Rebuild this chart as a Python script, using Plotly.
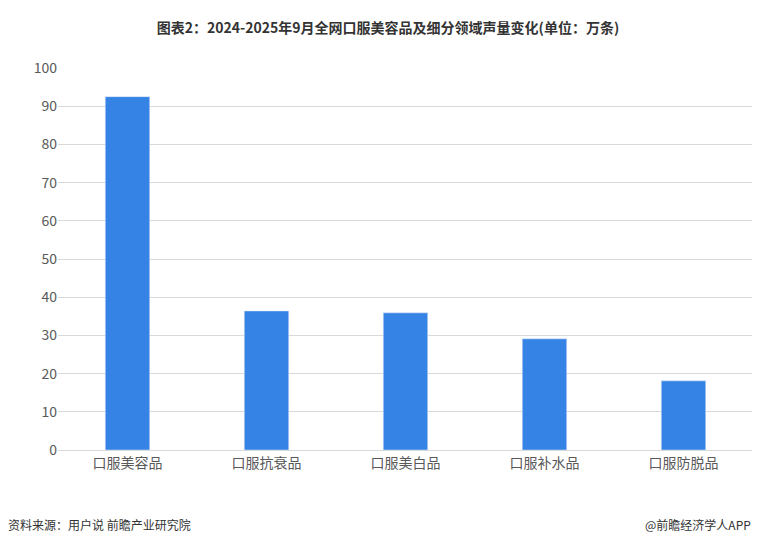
import plotly.graph_objects as go

categories = ["口服美容品", "口服抗衰品", "口服美白品", "口服补水品", "口服防脱品"]
values = [92.5, 36.4, 35.9, 29.1, 18.1]
yticks = list(range(0, 101, 10))

fig = go.Figure(go.Bar(x=categories, y=values, marker_color="#3583e5", width=0.32))
fig.update_layout(
    width=760, height=537, paper_bgcolor="white", plot_bgcolor="white",
    margin=dict(l=50, r=15, t=60, b=95),
    font=dict(family="Noto Sans CJK SC", size=14, color="#595959"),
    title=dict(text="<b>图表2：2024-2025年9月全网口服美容品及细分领域声量变化(单位：万条)</b>",
               x=0.5, xanchor="center", y=0.963, yanchor="middle",
               font=dict(size=14, color="#333333")),
    showlegend=False,
)
fig.update_yaxes(range=[0, 100], tickvals=yticks, showgrid=True, gridcolor="#d9d9d9",
                 zeroline=False, ticks="", tickfont=dict(size=14, color="#595959"))
fig.update_xaxes(showline=True, linecolor="#d9d9d9", tickfont=dict(size=14, color="#595959"))
fig.add_annotation(text="资料来源：用户说 前瞻产业研究院", xref="paper", yref="paper", x=-0.075, y=-0.196,
                   xanchor="left", yanchor="middle", showarrow=False, font=dict(size=12, color="#333333"))
fig.add_annotation(text="@前瞻经济学人APP", xref="paper", yref="paper", x=1.0, y=-0.196,
                   xanchor="right", yanchor="middle", showarrow=False, font=dict(size=12, color="#333333"))
fig.write_html("out.html")
